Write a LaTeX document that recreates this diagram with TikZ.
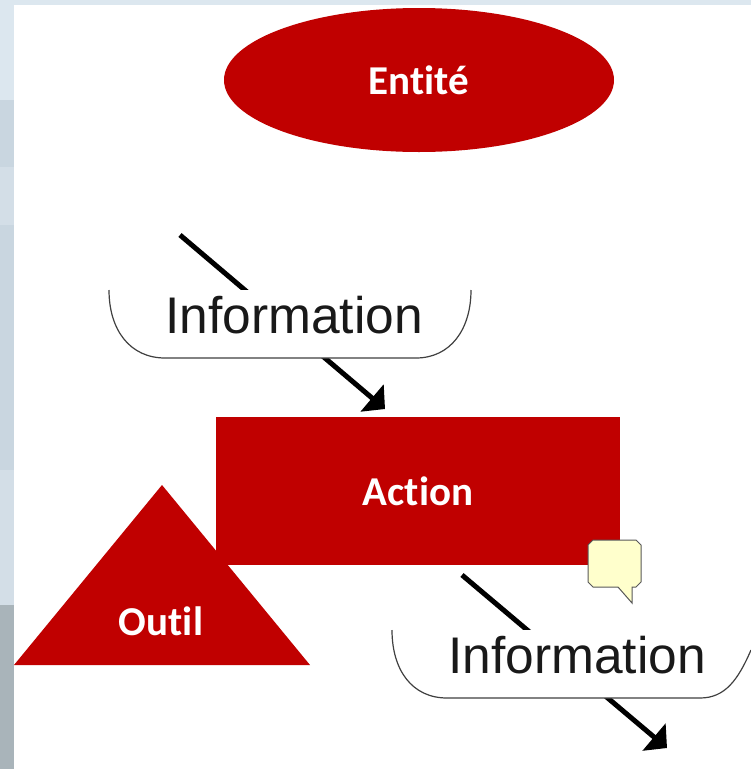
\documentclass[tikz,border=0pt]{standalone}
\usepackage{fontspec}
\setmainfont[Ligatures=NoCommon]{Carlito}
\newfontfamily\arialfont{Liberation Sans}
\usetikzlibrary{arrows.meta,shapes.geometric}
\definecolor{rouge}{HTML}{C00000}
\definecolor{bulle}{HTML}{FFFFCC}
\definecolor{bgA}{HTML}{DCE7EF}
\definecolor{bgB}{HTML}{C9D6E0}
\definecolor{bgC}{HTML}{D3DEE7}
\definecolor{bgD}{HTML}{A9B4BA}
\tikzset{
  x=1pt,y=-1pt,
  redlabel/.style={text=white,font=\bfseries\fontsize{41}{45}\selectfont,inner sep=0pt},
  infolabel/.style={text=black!90,font=\arialfont\fontsize{51.5}{56}\selectfont,inner sep=0pt},
  flowarrow/.style={line width=5pt,black,-{Triangle[length=17pt,width=35pt]},shorten >=0pt},
  infocup/.style={fill=white,draw=none},
  cupedge/.style={draw=black!75,line width=1.2pt},
}
\begin{document}
\begin{tikzpicture}
\useasboundingbox (0,0) rectangle (751,769);
% background picture
\fill[bgA] (0,0) rectangle (751,769);
\fill[bgB] (0,100) rectangle (14,167);
\fill[bgC] (0,167) rectangle (14,470);
\fill[bgB] (0,225) rectangle (14,470);
\fill[bgC] (0,470) rectangle (14,605);
\fill[bgD] (0,605) rectangle (14,769);
\fill[white] (14,5) rectangle (751,769);
% red shapes
\node[ellipse,fill=rouge,minimum width=390pt,minimum height=144pt,inner sep=0pt,redlabel] (entite) at (419,80) {Entité};
\node[fill=rouge,minimum width=404pt,minimum height=148pt,inner sep=0pt,redlabel] (action) at (418,491) {Action};
\fill[rouge] (162,485) -- (310,665) -- (14,665) -- cycle;
\node[redlabel] (outil) at (161,621) {Outil};
% first information
\coordinate (a1) at (180,235);
\coordinate (a2) at (385,409);
\draw[flowarrow] (a1) -- (a2);
\path[infocup] (109,290) -- (471,290) .. controls (471,330) and (450,358) .. (416,358) -- (165,358) .. controls (130,358) and (109,330) .. (109,290) -- cycle;
\draw[cupedge] (471,290) .. controls (471,330) and (450,358) .. (416,358) -- (165,358) .. controls (130,358) and (109,330) .. (109,290);
\node[infolabel] (info1) at (294,315) {Information};
% second information
\coordinate (b1) at (462,575);
\coordinate (b2) at (667,748);
\draw[flowarrow] (b1) -- (b2);
\path[infocup] (392,630) -- (751,630) -- (751,650) .. controls (738,680) and (725,698) .. (700,698) -- (447,698) .. controls (412,698) and (392,670) .. (392,630) -- cycle;
\draw[cupedge] (751,650) .. controls (738,680) and (725,698) .. (700,698) -- (447,698) .. controls (412,698) and (392,670) .. (392,630);
\node[infolabel] (info2) at (577,655) {Information};
% callout
\draw[fill=bulle,draw=black!65,line width=1pt] (593,540) -- (636,540) -- (641,545) -- (641,582) -- (636,587) -- (632,587) -- (632,603) -- (618,587) -- (593,587) -- (588,582) -- (588,545) -- cycle;
\end{tikzpicture}
\end{document}
